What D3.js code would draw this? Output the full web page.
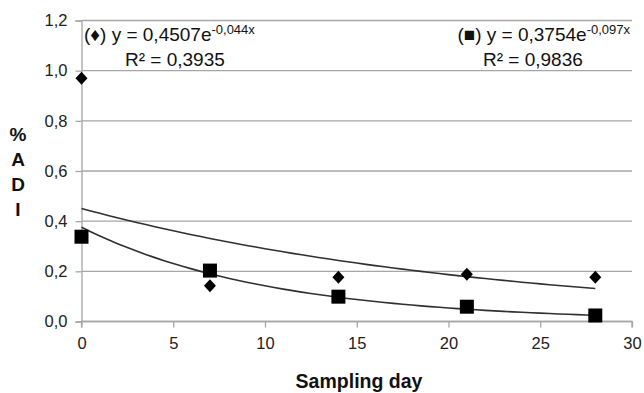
<!DOCTYPE html>
<html>
<head>
<meta charset="utf-8">
<script src="https://cdn.jsdelivr.net/npm/d3@7"></script>
<style>
  body { margin: 0; background: #fff; }
  text { font-family: "Liberation Sans", Arial, sans-serif; }
</style>
</head>
<body>
<div id="chart"></div>
<script>
// sampling days and measured values
var days = [0, 7, 14, 21, 28];
var diamondVals = [0.97, 0.143, 0.176, 0.188, 0.176];
var squareVals = [0.338, 0.203, 0.099, 0.059, 0.024];

// fitted exponential trendlines (from the equations shown)
var diamondFit = [0.4507, -0.044];
var squareFit = [0.3754, -0.097];

var xTicks = [0, 5, 10, 15, 20, 25, 30];
var yTicks = [0, 0.2, 0.4, 0.6, 0.8, 1.0, 1.2];

var width = 644, height = 393;
var margin = {top: 20.5, right: 12, bottom: 71.5, left: 81.5};

var svg = d3.select("#chart").append("svg")
    .attr("width", width)
    .attr("height", height);

var x = d3.scaleLinear().domain([0, 30]).range([margin.left, width - margin.right]);
var y = d3.scaleLinear().domain([0, 1.2]).range([height - margin.bottom, margin.top]);

var fmt = function(d) { return d3.format(".1f")(d).replace(".", ","); };

// gridlines
svg.append("g")
    .selectAll("line")
    .data(yTicks)
  .enter().append("line")
    .attr("x1", x(0)).attr("x2", x(30))
    .attr("y1", function(d) { return y(d); })
    .attr("y2", function(d) { return y(d); })
    .attr("stroke", "#a6a6a6")
    .attr("stroke-width", 1.3);

// y axis
var yAxis = svg.append("g")
    .attr("transform", "translate(" + x(0) + ",0)")
    .call(d3.axisLeft(y).tickValues(yTicks).tickFormat(fmt).tickSize(6).tickPadding(8));
// x axis
var xAxis = svg.append("g")
    .attr("transform", "translate(0," + y(0) + ")")
    .call(d3.axisBottom(x).tickValues(xTicks).tickSize(6).tickPadding(10));

[yAxis, xAxis].forEach(function(ax) {
  ax.select(".domain").attr("stroke", "#a6a6a6").attr("stroke-width", 1.3);
  ax.selectAll(".tick line").attr("stroke", "#a6a6a6").attr("stroke-width", 1.3);
  ax.selectAll("text")
    .attr("font-family", "'Liberation Sans', Arial, sans-serif")
    .attr("font-size", 16.5)
    .attr("fill", "#222");
});
xAxis.selectAll(".domain").attr("d", "M" + x(0) + ",6V0H" + x(30) + "V6");

// trendlines
function trend(fit) {
  var pts = d3.range(0, 28.01, 0.5).map(function(t) { return [t, fit[0] * Math.exp(fit[1] * t)]; });
  return d3.line().x(function(d) { return x(d[0]); }).y(function(d) { return y(d[1]); })(pts);
}
svg.append("path").attr("d", trend(diamondFit))
    .attr("fill", "none").attr("stroke", "#303030").attr("stroke-width", 1.6);
svg.append("path").attr("d", trend(squareFit))
    .attr("fill", "none").attr("stroke", "#303030").attr("stroke-width", 1.6);

// markers
svg.append("g").selectAll("path")
    .data(days)
  .enter().append("path")
    .attr("d", "M0,-6.5L6,0L0,6.5L-6,0Z")
    .attr("transform", function(d, i) { return "translate(" + x(d) + "," + y(diamondVals[i]) + ")"; })
    .attr("fill", "#000");

svg.append("g").selectAll("rect")
    .data(days)
  .enter().append("rect")
    .attr("x", function(d) { return x(d) - 7; })
    .attr("y", function(d, i) { return y(squareVals[i]) - 7; })
    .attr("width", 14).attr("height", 14)
    .attr("fill", "#000");

// equations
var eq1 = svg.append("text").attr("x", 84).attr("y", 41).attr("font-size", 19).attr("fill", "#111");
eq1.append("tspan").text("(\u2666) y = 0,4507e");
eq1.append("tspan").attr("font-size", 13).attr("dy", -7).text("-0,044x");
svg.append("text").attr("x", 125).attr("y", 66).attr("font-size", 19).attr("fill", "#111")
    .text("R\u00b2 = 0,3935");

var eq2 = svg.append("text").attr("x", 630).attr("y", 41).attr("font-size", 19).attr("fill", "#111")
    .attr("text-anchor", "end");
eq2.append("tspan").text("(\u25a0) y = 0,3754e");
eq2.append("tspan").attr("font-size", 13).attr("dy", -7).text("-0,097x");
svg.append("text").attr("x", 483).attr("y", 66).attr("font-size", 19).attr("fill", "#111")
    .text("R\u00b2 = 0,9836");

// axis titles
var yTitle = ["%", "A", "D", "I"];
svg.append("g").selectAll("text")
    .data(yTitle)
  .enter().append("text")
    .attr("x", 18)
    .attr("y", function(d, i) { return 141 + i * 25; })
    .attr("text-anchor", "middle")
    .attr("font-size", 19).attr("font-weight", "bold").attr("fill", "#111")
    .text(function(d) { return d; });

svg.append("text")
    .attr("x", 359).attr("y", 388)
    .attr("text-anchor", "middle")
    .attr("font-size", 19.5).attr("font-weight", "bold").attr("fill", "#111")
    .text("Sampling day");
</script>
</body>
</html>
